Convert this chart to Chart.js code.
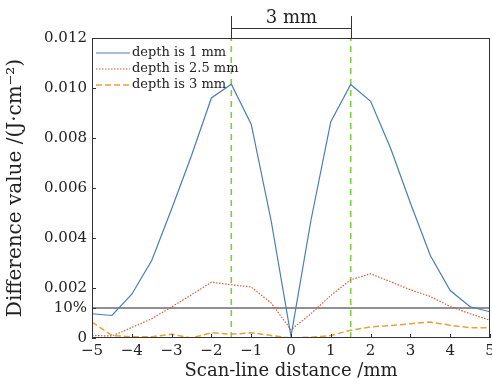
<!DOCTYPE html>
<html>
<head>
<meta charset="utf-8">
<script src="https://cdn.jsdelivr.net/npm/chart.js@4/dist/chart.umd.min.js"></script>
<style>
  body { margin: 0; background: #fff; }
  #wrap { width: 492px; height: 386px; }
</style>
</head>
<body>
<div id="wrap"><canvas id="chart" width="492" height="386"></canvas></div>
<script>
// scan positions (mm)
const positions = [-5, -4.5, -4, -3.5, -3, -2.5, -2, -1.5, -1, -0.5, 0, 0.5, 1, 1.5, 2, 2.5, 3, 3.5, 4, 4.5, 5];
const depth1 = [0.00097, 0.00090, 0.00175, 0.00310, 0.00516, 0.00730, 0.00960, 0.01015, 0.00855, 0.00470, 0.00007,
                0.00470, 0.00865, 0.01014, 0.00947, 0.00760, 0.00540, 0.00330, 0.00190, 0.00125, 0.00105];
const depth25 = [0.00010, 0.00008, 0.00042, 0.00077, 0.00124, 0.00173, 0.00223, 0.00213, 0.00204, 0.00140, 0.00033,
                 0.00097, 0.00170, 0.00233, 0.00257, 0.00225, 0.00193, 0.00166, 0.00126, 0.00097, 0.00071];
const depth3 = [0.00064, 0.00010, 0.00005, 0.00005, 0.00015, 0.00000, 0.00021, 0.00015, 0.00021, 0.00010, 0.00000,
                0.00003, 0.00010, 0.00031, 0.00044, 0.00050, 0.00057, 0.00064, 0.00051, 0.00041, 0.00041];
const seriesLabels = ['depth is 1 mm', 'depth is 2.5 mm', 'depth is 3 mm'];
const threshold = 0.0012;        // the "10%" level
const markers = [-1.5, 1.5];     // green guide lines, 3 mm apart
const spanLabel = '3 mm';

const serif = '"DejaVu Serif", "Liberation Serif", serif';
const toPts = arr => arr.map((v, i) => ({ x: positions[i], y: v }));

// box, inward ticks, bracket and legend
const decor = {
  id: 'decor',
  afterDatasetsDraw(chart) {
    const { ctx, chartArea: a, scales: { x, y } } = chart;
    ctx.save();
    ctx.strokeStyle = '#333';
    ctx.lineWidth = 1;
    ctx.strokeRect(a.left + 0.5, a.top + 0.5, a.width - 1, a.height - 1);

    ctx.beginPath();
    x.ticks.forEach(t => {
      const px = Math.round(x.getPixelForValue(t.value)) + 0.5;
      ctx.moveTo(px, a.bottom); ctx.lineTo(px, a.bottom - 4);
    });
    y.ticks.forEach(t => {
      const py = Math.round(y.getPixelForValue(t.value)) + 0.5;
      ctx.moveTo(a.left, py); ctx.lineTo(a.left + 4, py);
    });
    ctx.stroke();

    // 3 mm bracket above the plot
    const l = Math.round(x.getPixelForValue(markers[0])) + 0.5;
    const r = Math.round(x.getPixelForValue(markers[1])) + 0.5;
    ctx.beginPath();
    ctx.moveTo(l, 16); ctx.lineTo(l, a.top);
    ctx.moveTo(r, 16); ctx.lineTo(r, a.top);
    ctx.moveTo(l, 28.5); ctx.lineTo(r, 28.5);
    ctx.stroke();
    ctx.fillStyle = '#222';
    ctx.font = '18px ' + serif;
    ctx.textAlign = 'center';
    ctx.textBaseline = 'alphabetic';
    ctx.fillText(spanLabel, (l + r) / 2, 23);

    // legend inside the plot
    ctx.font = '13px ' + serif;
    ctx.textAlign = 'left';
    ctx.textBaseline = 'middle';
    chart.data.datasets.slice(0, 3).forEach((ds, i) => {
      const yy = a.top + 15 + i * 16;
      ctx.strokeStyle = ds.borderColor;
      ctx.lineWidth = ds.borderWidth;
      ctx.setLineDash(ds.borderDash || []);
      ctx.beginPath();
      ctx.moveTo(a.left + 4, yy); ctx.lineTo(a.left + 38, yy);
      ctx.stroke();
      ctx.setLineDash([]);
      ctx.fillStyle = '#222';
      ctx.fillText(ds.label, a.left + 40, yy);
    });
    ctx.restore();
  }
};

new Chart(document.getElementById('chart'), {
  type: 'line',
  data: {
    datasets: [
      { label: seriesLabels[0], data: toPts(depth1), borderColor: '#4a7db3', borderWidth: 1.2, pointRadius: 0 },
      { label: seriesLabels[1], data: toPts(depth25), borderColor: '#d95a3a', borderWidth: 1.2, borderDash: [1.5, 1.5], pointRadius: 0 },
      { label: seriesLabels[2], data: toPts(depth3), borderColor: '#e3a33a', borderWidth: 1.5, borderDash: [6, 3], pointRadius: 0 },
      { label: 'threshold', data: [{ x: -5, y: threshold }, { x: 5, y: threshold }], borderColor: '#222', borderWidth: 1, pointRadius: 0 },
      { label: 'left', data: [{ x: markers[0], y: 0 }, { x: markers[0], y: 0.012 }], borderColor: '#7ccf3c', borderWidth: 1.6, borderDash: [6, 5], pointRadius: 0 },
      { label: 'right', data: [{ x: markers[1], y: 0 }, { x: markers[1], y: 0.012 }], borderColor: '#7ccf3c', borderWidth: 1.6, borderDash: [6, 5], pointRadius: 0 }
    ]
  },
  options: {
    responsive: false,
    animation: false,
    layout: { padding: { top: 38, right: 2, left: 0, bottom: 0 } },
    plugins: { legend: { display: false }, tooltip: { enabled: false } },
    scales: {
      x: {
        type: 'linear', min: -5, max: 5,
        grid: { display: false, drawTicks: false },
        border: { display: false },
        ticks: {
          stepSize: 1, padding: 4, color: '#222',
          font: { family: serif, size: 15 },
          callback: v => String(v).replace('-', '\u2212')
        },
        title: { display: true, text: 'Scan-line distance /mm', color: '#222', font: { family: serif, size: 18 }, padding: { top: 0 } },
        afterFit: s => { s.height = 48; s.paddingLeft = 0; s.paddingRight = 0; }
      },
      y: {
        min: 0, max: 0.012,
        grid: { display: false, drawTicks: false },
        border: { display: false },
        afterBuildTicks: s => {
          s.ticks.push({ value: threshold });
          s.ticks.sort((p, q) => p.value - q.value);
        },
        ticks: {
          stepSize: 0.002, padding: 5, color: '#222',
          font: { family: serif, size: 15 },
          callback: v => Math.abs(v - threshold) < 1e-9 ? '10%' : (v === 0 ? '0' : v.toFixed(3))
        },
        title: { display: true, text: 'Difference value /(J\u00b7cm\u207b\u00b2)', color: '#222', font: { family: serif, size: 20 }, padding: { bottom: 1 } },
        afterFit: s => { s.width = 92; }
      }
    }
  },
  plugins: [decor]
});
</script>
</body>
</html>
